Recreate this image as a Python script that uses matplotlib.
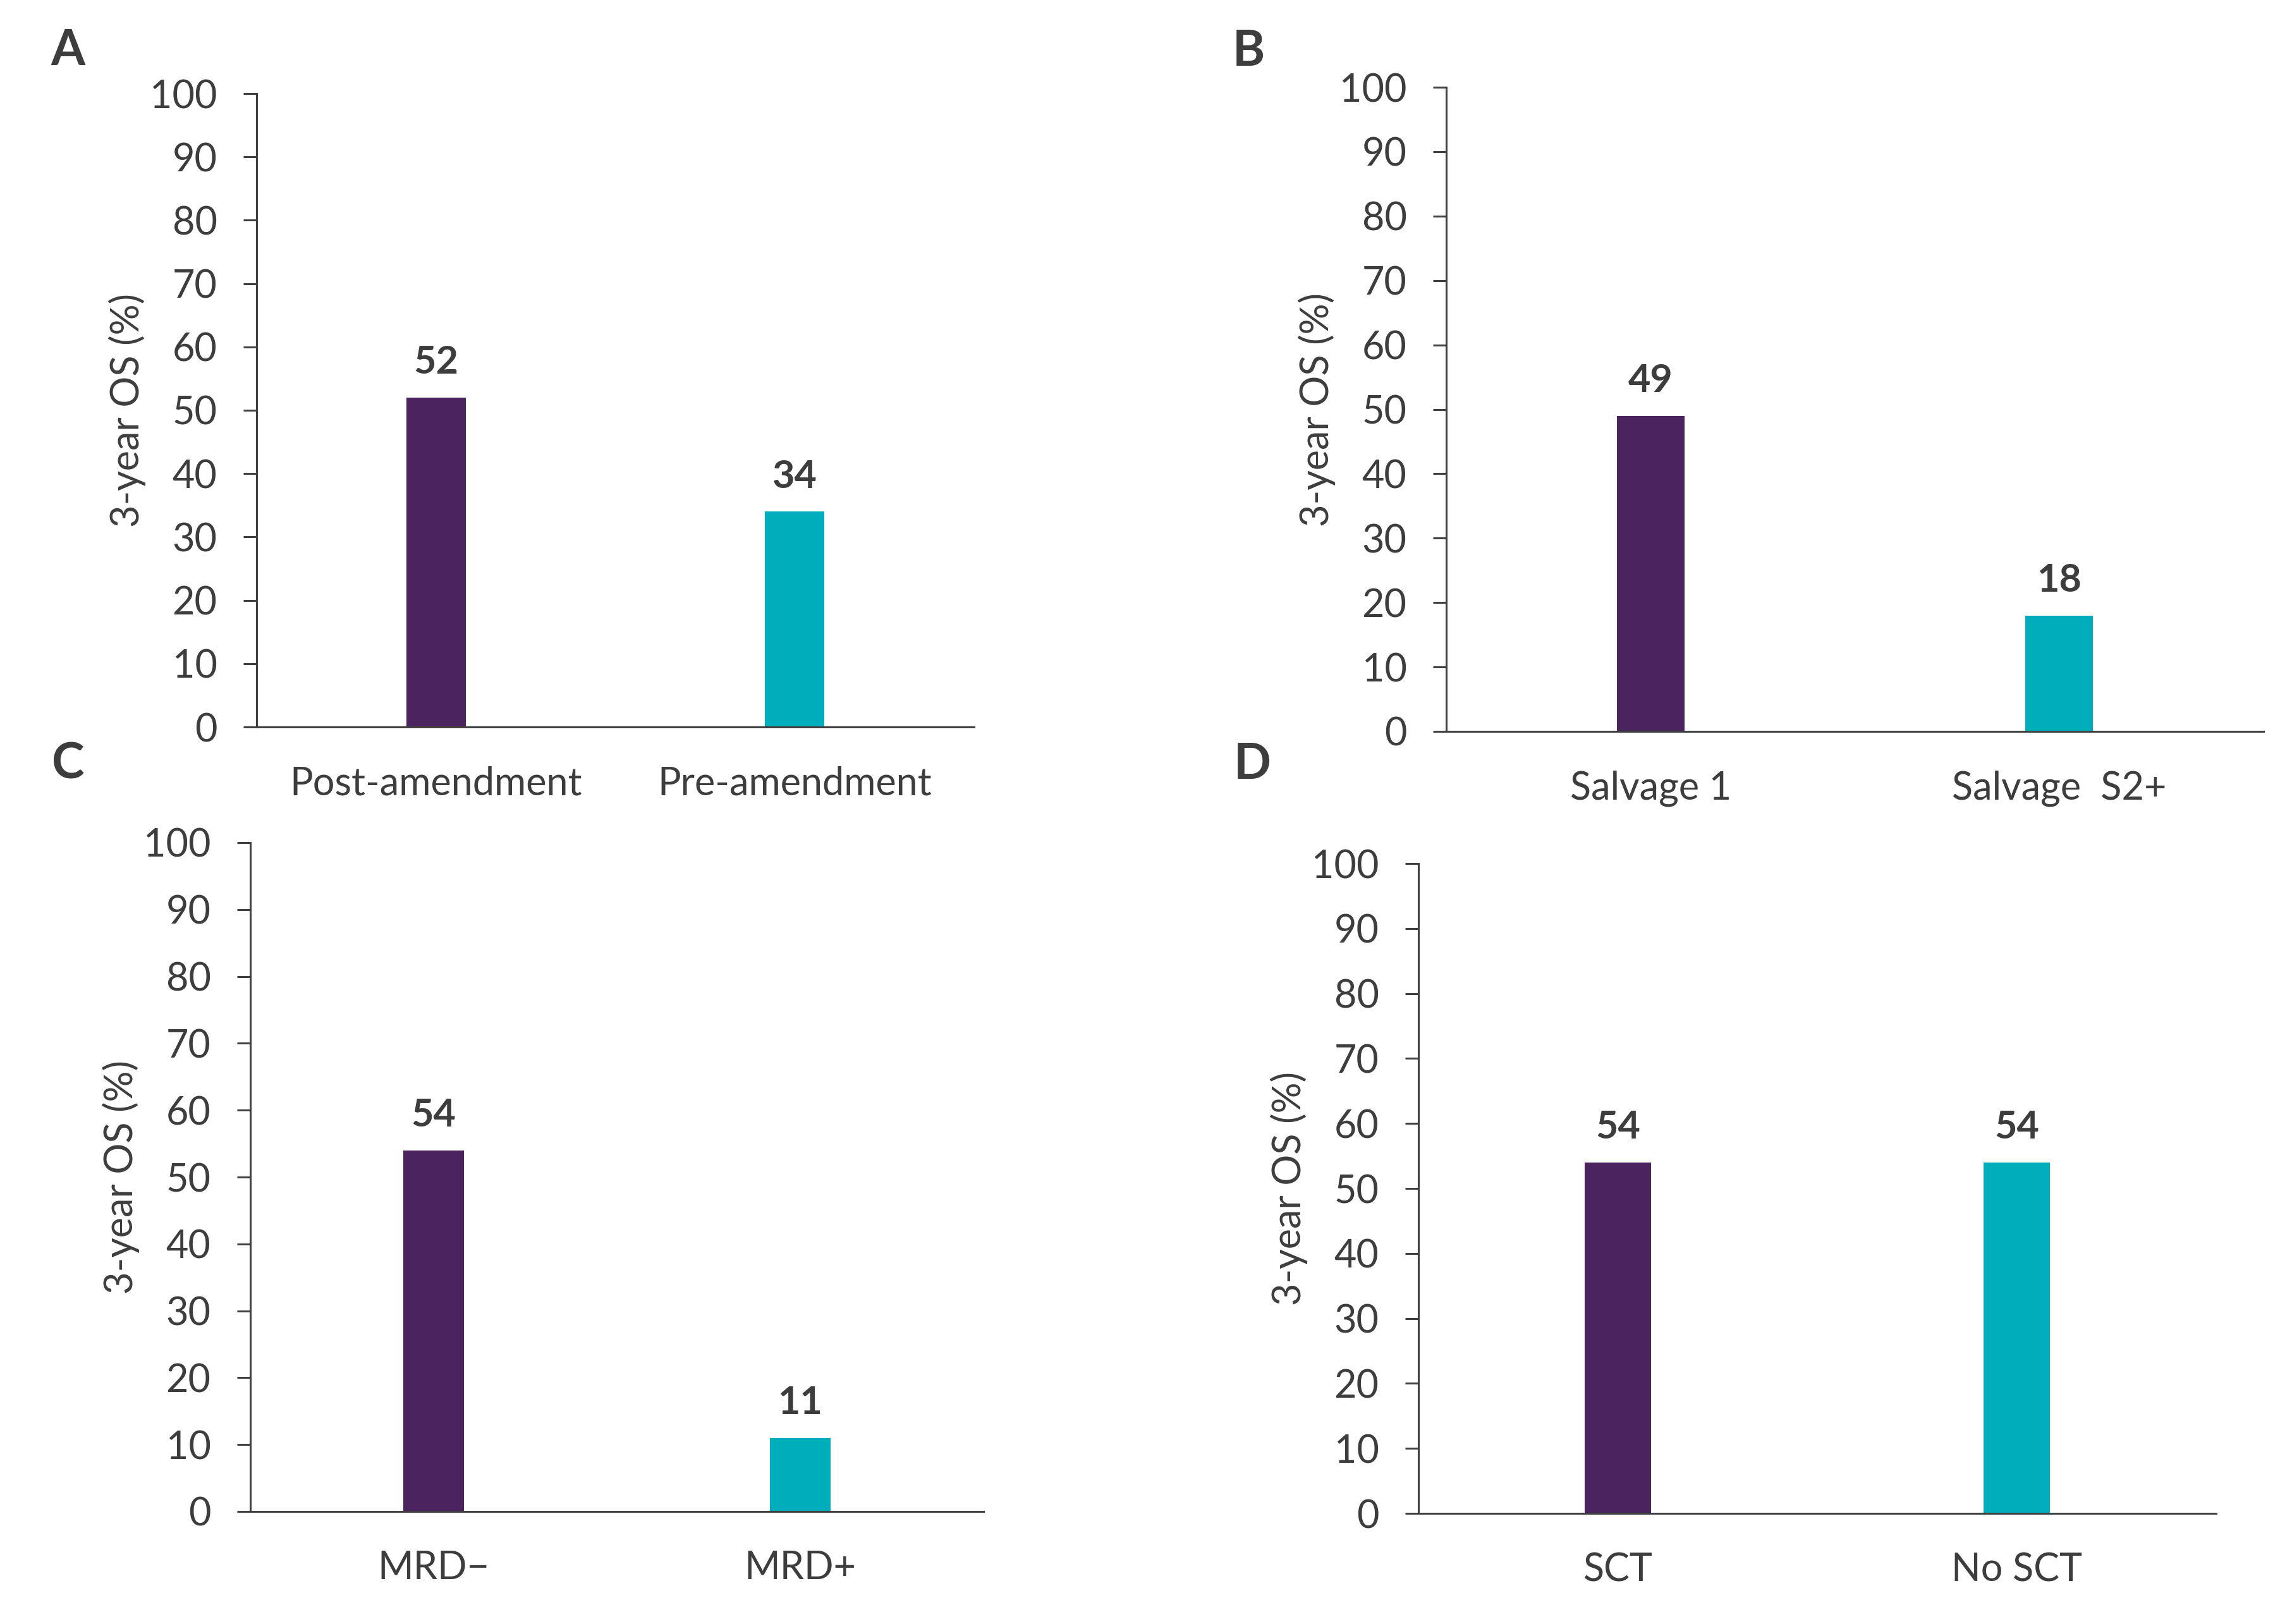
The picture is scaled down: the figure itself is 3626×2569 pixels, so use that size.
import matplotlib
matplotlib.use("Agg")
import matplotlib.pyplot as plt

plt.rcParams['font.family'] = ['Lato', 'DejaVu Sans']

# ---- data ----
categories_a = ["Post-amendment", "Pre-amendment"]
values_a = [52, 34]
categories_b = ["Salvage 1", "Salvage  S2+"]
values_b = [49, 18]
categories_c = ["MRD\u2212", "MRD+"]
values_c = [54, 11]
categories_d = ["SCT", "No SCT"]
values_d = [54, 54]
yticks = list(range(0, 101, 10))
ylabel = "3-year OS (%)"
panel_letters = ["A", "B", "C", "D"]

# ---- style ----
W, H = 3626, 2569
DPI = 100
TEXT = "#3d3d3d"
AXC = "#404040"
BAR_COLORS = ["#4a235f", "#00adbb"]
TICK_FS = 44
VAL_FS = 44
LETTER_FS = 56

fig = plt.figure(figsize=(W / DPI, H / DPI), dpi=DPI)
fig.patch.set_facecolor("white")

# axes boxes in pixels: left, top, right, bottom
boxes = [
    (406, 148, 1541, 1150),
    (2288, 138, 3581, 1157),
    (396, 1333, 1556, 2391),
    (2244, 1366, 3506, 2394),
]
letter_pos = [(80, 103), (1950, 104), (82, 1232), (1952, 1232)]

panels = [
    (categories_a, values_a),
    (categories_b, values_b),
    (categories_c, values_c),
    (categories_d, values_d),
]

for (cats, vals), (l, t, r, b), letter, (lx, ly) in zip(panels, boxes, panel_letters, letter_pos):
    ax = fig.add_axes([l / W, 1 - b / H, (r - l) / W, (b - t) / H])
    x = list(range(len(cats)))
    ax.bar(x, vals, width=0.165, color=BAR_COLORS, zorder=2)
    ax.set_xlim(-0.5, 1.5)
    ax.set_ylim(0, 100)
    ax.set_yticks(yticks)
    ax.set_xticks(x)
    ax.set_xticklabels(cats)
    for s in ["top", "right"]:
        ax.spines[s].set_visible(False)
    for s in ["left", "bottom"]:
        ax.spines[s].set_color(AXC)
        ax.spines[s].set_linewidth(2.2)
    ax.tick_params(axis="y", length=15, width=2.2, color=AXC, pad=30,
                   labelsize=TICK_FS, labelcolor=TEXT)
    ax.tick_params(axis="x", length=0, pad=44, labelsize=TICK_FS, labelcolor=TEXT)
    for xi, v in zip(x, vals):
        ax.annotate(f"{v}", (xi, v), xytext=(0, 27), textcoords="offset points",
                    ha="center", va="baseline", fontsize=VAL_FS,
                    fontweight="bold", color=TEXT)
    ax.text(-205 / (r - l), 0.5, ylabel, transform=ax.transAxes, rotation=90,
            ha="center", va="center", fontsize=TICK_FS, color=TEXT)
    fig.text(lx / W, 1 - ly / H, letter, ha="left", va="baseline",
             fontsize=LETTER_FS, fontweight="bold", color=TEXT)

fig.savefig("out.png", dpi=DPI, facecolor="white")
